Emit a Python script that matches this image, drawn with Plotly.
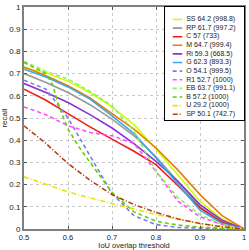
import plotly.graph_objects as go

# IoU thresholds shared by most series
iou = [0.5, 0.55, 0.6, 0.65, 0.7, 0.75, 0.8, 0.85, 0.9, 0.95, 1.0]

ss = [0.725, 0.705, 0.665, 0.615, 0.55, 0.47, 0.36, 0.245, 0.125, 0.045, 0.0]
rp = [0.70, 0.66, 0.615, 0.56, 0.495, 0.42, 0.325, 0.21, 0.10, 0.035, 0.0]
c_ = [0.63, 0.58, 0.52, 0.46, 0.405, 0.35, 0.29, 0.195, 0.095, 0.03, 0.0]
m_ = [0.73, 0.69, 0.645, 0.59, 0.52, 0.45, 0.365, 0.265, 0.155, 0.06, 0.0]
ri = [0.655, 0.615, 0.57, 0.515, 0.455, 0.385, 0.305, 0.215, 0.11, 0.04, 0.0]
g_ = [0.72, 0.685, 0.64, 0.585, 0.51, 0.43, 0.32, 0.20, 0.085, 0.025, 0.0]
o_ = [0.67, 0.63, 0.50, 0.33, 0.16, 0.06, 0.02, 0.007, 0.003, 0.001, 0.0]
r1 = [0.55, 0.515, 0.465, 0.435, 0.42, 0.385, 0.26, 0.125, 0.055, 0.02, 0.0]
eb = [0.755, 0.71, 0.675, 0.62, 0.555, 0.44, 0.26, 0.14, 0.065, 0.02, 0.0]
u_ = [0.235, 0.20, 0.167, 0.14, 0.115, 0.09, 0.065, 0.045, 0.025, 0.01, 0.0]
sp = [0.465, 0.385, 0.295, 0.22, 0.155, 0.11, 0.075, 0.045, 0.025, 0.01, 0.0]

# B drops steeply, so it has its own threshold samples
iou_b = [0.5, 0.525, 0.55, 0.565, 0.58, 0.6, 0.625, 0.65, 0.675, 0.7, 0.75, 0.8, 0.85, 0.9, 0.95, 1.0]
b_ = [0.75, 0.725, 0.70, 0.65, 0.55, 0.45, 0.37, 0.30, 0.23, 0.165, 0.077, 0.035, 0.018, 0.008, 0.003, 0.0]

labels = ["SS 64.2 (998.8)", "RP 61.7 (997.2)", "C 57 (733)", "M 64.7 (999.4)",
          "Ri 59.3 (668.5)", "G 62.3 (893.3)", "O 54.1 (999.5)", "R1 52.7 (1000)",
          "EB 63.7 (991.1)", "B 57.2 (1000)", "U 29.2 (1000)", "SP 50.1 (742.7)"]
xs_list = [iou, iou, iou, iou, iou, iou, iou, iou, iou, iou_b, iou, iou]
ys_list = [ss, rp, c_, m_, ri, g_, o_, r1, eb, b_, u_, sp]
colors = ["#ccff00", "#999999", "#ee1c1c", "#ee7a00", "#8a35d0", "#3aa8e8",
          "#7b7bf0", "#ff4cff", "#8cf25a", "#5fd000", "#e4e400", "#b5401a"]
dashes = ["solid", "solid", "solid", "solid", "solid", "solid",
          "4px,3px", "4px,3px", "4px,3px", "4px,3px", "5px,2px,1px,2px", "5px,2px,1px,2px"]

fig = go.Figure()
for xs, ys, col, dsh in zip(xs_list, ys_list, colors, dashes):
    fig.add_trace(go.Scatter(x=xs, y=ys, mode="lines", showlegend=False,
                             line=dict(color=col, width=1.6, dash=dsh),
                             xaxis="x", yaxis="y", hoverinfo="skip"))

# custom compact legend drawn in an inset subplot
idx = list(range(len(labels)))
for i, col, dsh in zip(idx, colors, dashes):
    fig.add_trace(go.Scatter(x=[0.1, 0.22], y=[i, i], mode="lines", showlegend=False,
                             line=dict(color=col, width=1.6, dash=dsh),
                             xaxis="x2", yaxis="y2", hoverinfo="skip"))
fig.add_trace(go.Scatter(x=[0.27] * len(labels), y=idx, mode="text", text=labels,
                         textposition="middle right", showlegend=False,
                         textfont=dict(size=7, color="#222222", family="Liberation Sans"),
                         xaxis="x2", yaxis="y2", hoverinfo="skip"))

fig.update_layout(
    width=249, height=250,
    margin=dict(l=24, r=5, t=7, b=21),
    paper_bgcolor="white", plot_bgcolor="white",
    font=dict(family="Liberation Sans", size=8, color="#222222"),
    xaxis=dict(range=[0.5, 1.0], tickvals=[0.5, 0.6, 0.7, 0.8, 0.9, 1.0],
               ticktext=["0.5", "0.6", "0.7", "0.8", "0.9", "1"], automargin=False,
               showgrid=True, gridcolor="#c8c8c8", griddash="dot", gridwidth=1,
               showline=True, linecolor="#808080", linewidth=2, mirror="ticks",
               ticks="inside", ticklen=3, tickcolor="#555555", zeroline=False,
               title=dict(text="IoU overlap threshold", font=dict(size=7.5), standoff=0),
               tickfont=dict(size=7.5)),
    yaxis=dict(range=[0, 1.0], tickvals=[0, 0.1, 0.2, 0.3, 0.4, 0.5, 0.6, 0.7, 0.8, 0.9, 1.0],
               ticktext=["0", "0.1", "0.2", "0.3", "0.4", "0.5", "0.6", "0.7", "0.8", "0.9", "1"],
               automargin=False,
               showgrid=True, gridcolor="#c8c8c8", griddash="dot", gridwidth=1,
               showline=True, linecolor="#808080", linewidth=2, mirror="ticks",
               ticks="inside", ticklen=3, tickcolor="#555555", zeroline=False,
               title=dict(text="recall", font=dict(size=8), standoff=0),
               tickfont=dict(size=8)),
    xaxis2=dict(domain=[0.64, 1.0], range=[0, 1], anchor="y2", visible=True, automargin=False,
                showticklabels=False, ticks="", showgrid=False, zeroline=False,
                showline=True, linecolor="#000000", linewidth=1, mirror=True),
    yaxis2=dict(domain=[0.49, 1.0], range=[11.7, -1.45], anchor="x2", automargin=False,
                showticklabels=False, ticks="", showgrid=False, zeroline=False,
                showline=True, linecolor="#000000", linewidth=1, mirror=True),
)

fig.write_html("out.html", config={"displayModeBar": False, "staticPlot": True},
               post_script="document.body.style.margin='0';")
